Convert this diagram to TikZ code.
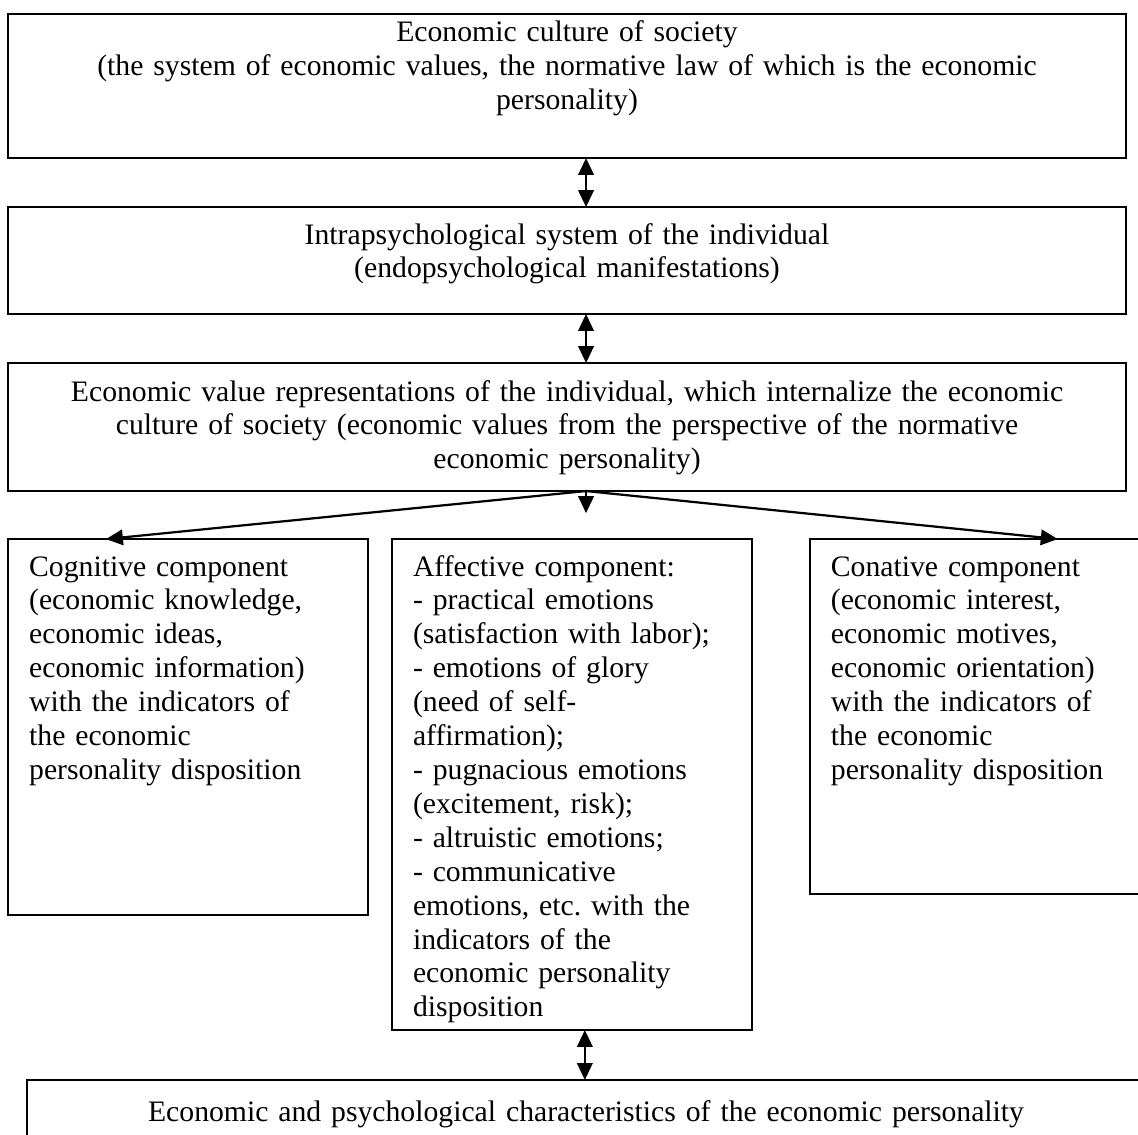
\documentclass[tikz,border=0pt]{standalone}
\usepackage{fontspec}
\setmainfont{Liberation Serif}
\usetikzlibrary{arrows.meta,positioning}
\frenchspacing

\begin{document}
\begin{tikzpicture}[>={Triangle[length=0.24cm,width=0.22cm]},line width=0.8pt,
		font=\fontsize{12pt}{13.7pt}\selectfont,
		wide node/.style={draw,outer sep=0pt,align=center,inner xsep=0pt,inner ysep=0pt,text width=15.876cm,text height=0.526cm},
		part node/.style={draw,outer sep=0pt,align=left,inner xsep=0.3cm,inner ysep=0pt,text width=4.51cm,text height=0.525cm}]
		
		\useasboundingbox (0,0) rectangle (16.16,-16.117);
		
		\node[wide node,anchor=north west,text height=0.397cm,text depth=1.648cm](culture) at (0.114,-0.199){Economic culture of society\\(the system of economic values, the normative law of which is the economic\\personality)};
		\node[wide node,text depth=0.993cm](intra)[below=0.696cm of culture]{Intrapsychological system of the individual\\(endopsychological manifestations)};
		\node[wide node,text height=0.54cm,text depth=1.278cm](values)[below=0.696cm of intra]{Economic value representations of the individual, which internalize the economic\\culture of society (economic values from the perspective of the normative\\economic personality)};
		
		\node[part node,text depth=4.814cm](cog)[below right=0.682cm and 0cm of values.south west]{Cognitive component\\(economic knowledge,\\economic ideas,\\economic information)\\with the indicators of\\the economic\\personality disposition};
		\node[part node,text depth=6.447cm](affect)[below right=0cm and 0.341cm of cog.north east]{Affective component:\\- practical emotions\\(satisfaction with labor);\\- emotions of glory\\(need of self-\\affirmation);\\- pugnacious emotions\\(excitement, risk);\\- altruistic emotions;\\- communicative\\emotions, etc. with the\\indicators of the\\economic personality\\disposition};
		\node[part node,text depth=4.518cm](conat)[below right=0cm and 0.824cm of affect.north east]{Conative component\\(economic interest,\\economic motives,\\economic orientation)\\with the indicators of\\the economic\\personality disposition};
		
		\node[draw,outer sep=0pt,align=left,inner xsep=0.3cm,inner ysep=0pt,text width=15.78cm,text height=0.596cm,text depth=1.35cm,anchor=north west](traits) at (0.383,-15.336){\hspace*{1.42cm}Economic and psychological characteristics of the economic personality};
		
		\draw[<->,line width=0.9pt] ([xshift=0.27cm]culture.south) -- ([xshift=0.27cm]culture.south |- intra.north);
		\draw[<->,line width=0.9pt] ([xshift=0.27cm]intra.south) -- ([xshift=0.27cm]intra.south |- values.north);
		\draw[->,line width=0.9pt] ([xshift=0.27cm]values.south) -- ([xshift=-1.164cm]cog.north);
		\draw[->,line width=0.9pt] ([xshift=0.27cm]values.south) -- ([xshift=0.966cm]conat.north);
		\draw[->,line width=0.9pt,shorten >=0.369cm] ([xshift=0.27cm]values.south) -- ([xshift=0.27cm]values.south |- affect.north);
		\draw[<->,line width=0.9pt] ([xshift=0.185cm]affect.south) -- ([xshift=0.185cm]affect.south |- traits.north);
		
	\end{tikzpicture}
\end{document}
